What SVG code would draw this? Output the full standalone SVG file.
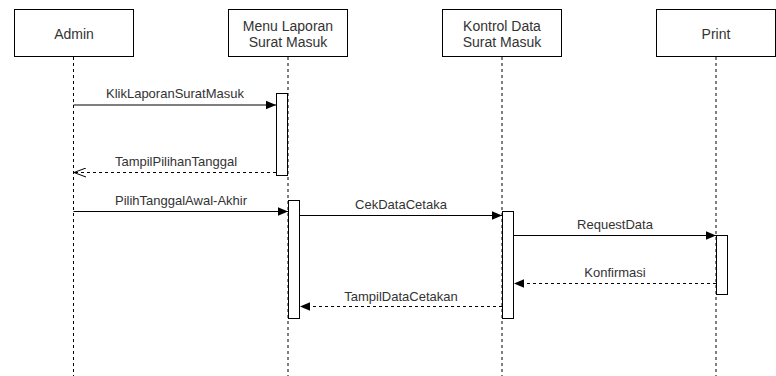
<svg xmlns="http://www.w3.org/2000/svg" width="776" height="376" viewBox="0 0 776 376">
  <style>
    .box { fill: #ffffff; stroke: #000000; stroke-width: 1; }
    .life { stroke: #000000; stroke-width: 1; stroke-dasharray: 3 3; fill: none; }
    .act { fill: #ffffff; stroke: #000000; stroke-width: 1; }
    .msg { stroke: #000000; stroke-width: 1; fill: none; }
    .ret { stroke: #000000; stroke-width: 1; fill: none; stroke-dasharray: 3 3; }
    .head { font-family: "Liberation Sans", Arial, sans-serif; font-size: 14px; fill: #333333; text-anchor: middle; }
    .lbl { font-family: "Liberation Sans", Arial, sans-serif; font-size: 13px; fill: #333333; text-anchor: middle; }
  </style>
  <defs>
    <marker id="block" viewBox="0 0 10 10" refX="10" refY="5" markerWidth="10" markerHeight="10" markerUnits="userSpaceOnUse" orient="auto">
      <path d="M0,0.8 L10,5 L0,9.2 Z" fill="#000000"/>
    </marker>
    <marker id="open" viewBox="0 0 13 10" refX="12.5" refY="5" markerWidth="13" markerHeight="10" markerUnits="userSpaceOnUse" orient="auto">
      <path d="M0.5,0.5 L12.5,5 L0.5,9.5" fill="none" stroke="#000000" stroke-width="1"/>
    </marker>
  </defs>

  <!-- lifeline headers -->
  <g id="admin">
    <rect class="box" x="14.5" y="9.5" width="119" height="47"/>
    <line class="life" x1="73.5" y1="57" x2="73.5" y2="376"/>
    <text class="head" x="74" y="39">Admin</text>
  </g>
  <g id="menu-laporan">
    <rect class="box" x="228.5" y="9.5" width="119" height="47"/>
    <line class="life" x1="288" y1="57" x2="288" y2="376"/>
    <text class="head" x="288" y="30.5">Menu Laporan</text>
    <text class="head" x="288" y="47">Surat Masuk</text>
  </g>
  <g id="kontrol-data">
    <rect class="box" x="442.5" y="9.5" width="119" height="47"/>
    <line class="life" x1="502" y1="57" x2="502" y2="376"/>
    <text class="head" x="502" y="30.5">Kontrol Data</text>
    <text class="head" x="502" y="47">Surat Masuk</text>
  </g>
  <g id="print">
    <rect class="box" x="656.5" y="9.5" width="119" height="47"/>
    <line class="life" x1="716" y1="57" x2="716" y2="376"/>
    <text class="head" x="716" y="39">Print</text>
  </g>

  <!-- activation bars -->
  <g id="activations">
    <rect class="act" x="276.5" y="93.5" width="11" height="82"/>
    <rect class="act" x="288.5" y="200.5" width="11" height="118"/>
    <rect class="act" x="502.5" y="211.5" width="11" height="107"/>
    <rect class="act" x="716.5" y="235.5" width="11" height="59"/>
  </g>

  <!-- messages -->
  <g id="connectors">
    <line class="msg" x1="73.5" y1="105" x2="276" y2="105" marker-end="url(#block)"/>
    <line class="ret" x1="276" y1="172.5" x2="74" y2="172.5" marker-end="url(#open)"/>
    <line class="msg" x1="73.5" y1="211.5" x2="288" y2="211.5" marker-end="url(#block)"/>
    <line class="msg" x1="300" y1="215.5" x2="502" y2="215.5" marker-end="url(#block)"/>
    <line class="msg" x1="514" y1="235.5" x2="716" y2="235.5" marker-end="url(#block)"/>
    <line class="ret" x1="716" y1="283.5" x2="514" y2="283.5" marker-end="url(#block)"/>
    <line class="ret" x1="502" y1="306.5" x2="300" y2="306.5" marker-end="url(#block)"/>
  </g>

  <!-- message labels -->
  <g id="labels">
    <text class="lbl" x="175" y="98">KlikLaporanSuratMasuk</text>
    <text class="lbl" x="176" y="166">TampilPilihanTanggal</text>
    <text class="lbl" x="181" y="205">PilihTanggalAwal-Akhir</text>
    <text class="lbl" x="401" y="209">CekDataCetaka</text>
    <text class="lbl" x="615" y="229">RequestData</text>
    <text class="lbl" x="615" y="277">Konfirmasi</text>
    <text class="lbl" x="401" y="300.5">TampilDataCetakan</text>
  </g>
</svg>
